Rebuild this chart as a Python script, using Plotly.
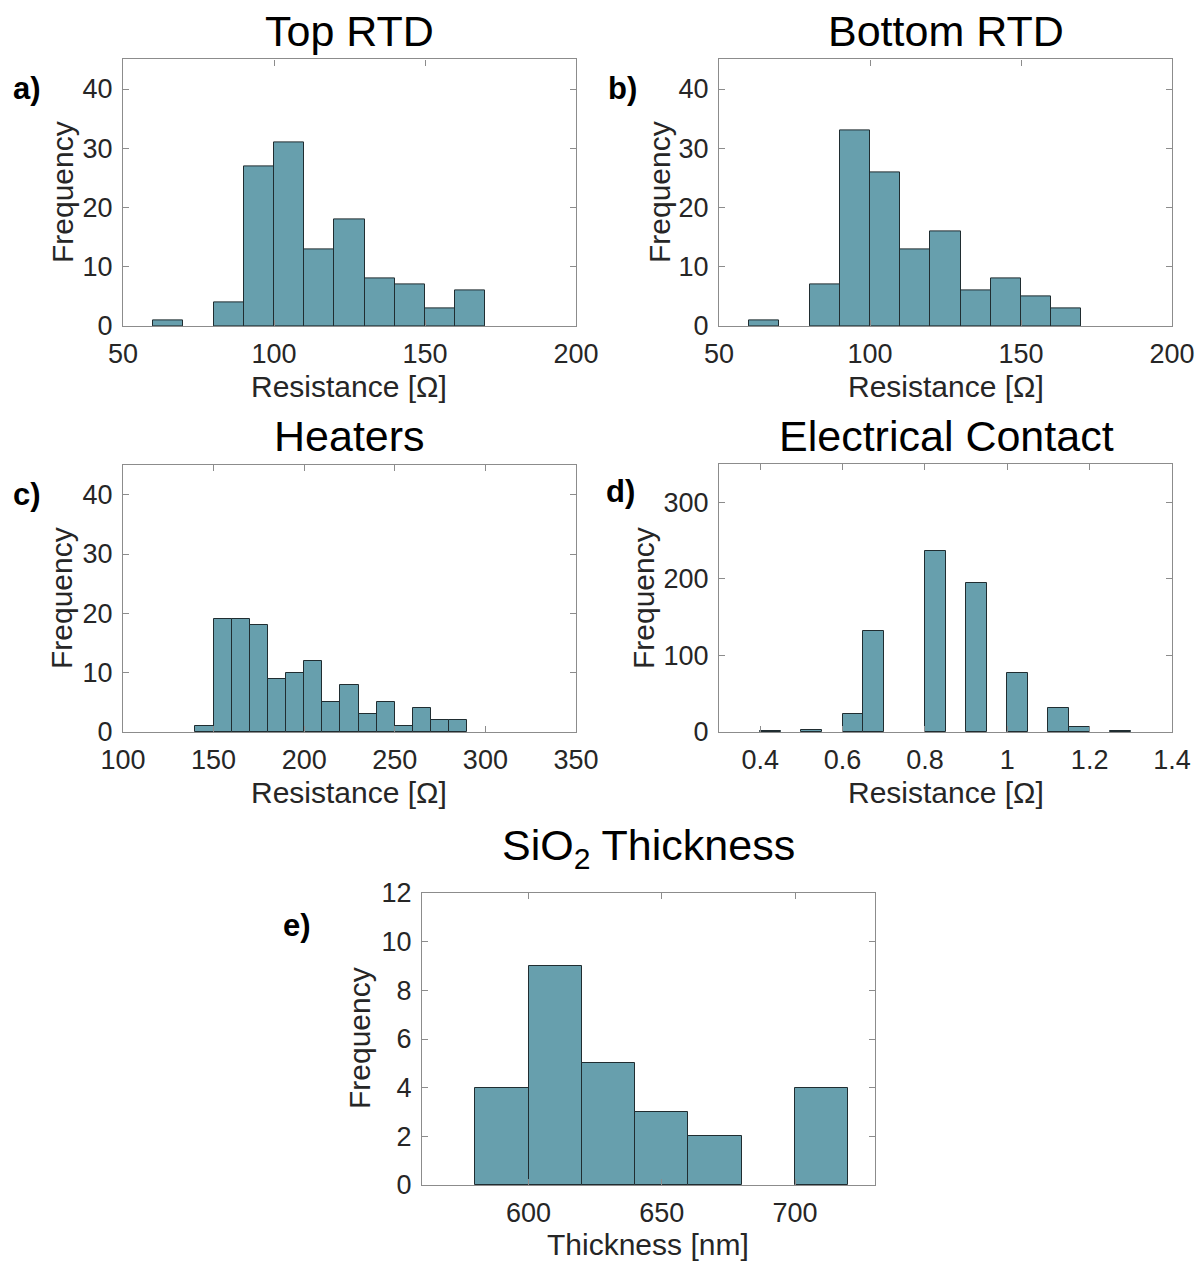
import plotly.graph_objects as go

# ---------------- data ----------------
top_rtd_bin_left = [60, 70, 80, 90, 100, 110, 120, 130, 140, 150, 160]
top_rtd_counts = [1, 0, 4, 27, 31, 13, 18, 8, 7, 3, 6]

bottom_rtd_bin_left = [60, 70, 80, 90, 100, 110, 120, 130, 140, 150, 160]
bottom_rtd_counts = [1, 0, 7, 33, 26, 13, 16, 6, 8, 5, 3]

heaters_bin_left = [140, 150, 160, 170, 180, 190, 200, 210, 220, 230, 240, 250, 260, 270, 280]
heaters_counts = [1, 19, 19, 18, 9, 10, 12, 5, 8, 3, 5, 1, 4, 2, 2]

contact_bin_left = [0.40, 0.50, 0.60, 0.65, 0.80, 0.90, 1.00, 1.10, 1.15, 1.25]
contact_counts = [1, 2, 23, 132, 237, 195, 77, 32, 6, 1]

sio2_bin_left = [580, 600, 620, 640, 660, 680, 700]
sio2_counts = [4, 9, 5, 3, 2, 0, 4]

# ---------------- style ----------------
W, H = 1197, 1263
FILL = "rgb(103,159,173)"
EDGE = "rgb(32,45,49)"
AXC = "rgb(140,140,140)"
TXT = "rgb(38,38,38)"
FONT = "Liberation Sans, Arial, Helvetica, sans-serif"


def px(x, y):
    return x / W, 1 - y / H


panels = [
    # name, bins, counts, width, xrange, xticks, yrange, yticks, box(px)
    ("a", top_rtd_bin_left, top_rtd_counts, 10, [50, 200], [50, 100, 150, 200], [0, 45], [0, 10, 20, 30, 40], (123, 576, 59.4, 326)),
    ("b", bottom_rtd_bin_left, bottom_rtd_counts, 10, [50, 200], [50, 100, 150, 200], [0, 45], [0, 10, 20, 30, 40], (719, 1172, 59.4, 326)),
    ("c", heaters_bin_left, heaters_counts, 10, [100, 350], [100, 150, 200, 250, 300, 350], [0, 45], [0, 10, 20, 30, 40], (123, 576, 465, 732)),
    ("d", contact_bin_left, contact_counts, 0.05, [0.3, 1.4], [0.4, 0.6, 0.8, 1.0, 1.2, 1.4], [0, 350], [0, 100, 200, 300], (719, 1172, 464, 732)),
    ("e", sio2_bin_left, sio2_counts, 20, [560, 730], [600, 650, 700], [0, 12], [0, 2, 4, 6, 8, 10, 12], (422, 875, 893, 1185)),
]

fig = go.Figure()
layout = dict(
    width=W, height=H,
    margin=dict(l=0, r=0, t=0, b=0),
    paper_bgcolor="white", plot_bgcolor="white",
    showlegend=False,
    font=dict(family=FONT, color=TXT),
    bargap=0,
)

for i, (name, bins, counts, bw, xr, xt, yr, yt, box) in enumerate(panels):
    sfx = "" if i == 0 else str(i + 1)
    # empty bins are not drawn (as in the original histogram)
    nz = [(b, c) for b, c in zip(bins, counts) if c > 0]
    fig.add_trace(go.Bar(
        x=[b for b, _ in nz], y=[c for _, c in nz], width=bw, offset=0,
        marker=dict(color=FILL, line=dict(color=EDGE, width=1)),
        xaxis="x" + sfx, yaxis="y" + sfx, hoverinfo="x+y",
    ))
    x0, x1, y0, y1 = box
    dx0, dy1 = px(x0, y0)
    dx1, dy0 = px(x1, y1)
    ticktext = [("%g" % v) for v in xt]
    common = dict(
        showline=True, linecolor=AXC, linewidth=1.3, mirror="allticks",
        ticks="inside", ticklen=6, tickcolor=AXC, tickwidth=1.3,
        showgrid=False, zeroline=False,
        tickfont=dict(size=27, color=TXT, family=FONT),
        automargin=False,
    )
    layout["xaxis" + sfx] = dict(
        domain=[dx0, dx1], range=xr, tickvals=xt, ticktext=ticktext,
        anchor="y" + sfx, ticklabelstandoff=3, **common)
    layout["yaxis" + sfx] = dict(
        domain=[dy0, dy1], range=yr, tickvals=yt,
        anchor="x" + sfx, ticklabelstandoff=4, **common)

annotations = []


def ann(text, x, y, size, bold=False, angle=0):
    ax, ay = px(x, y)
    annotations.append(dict(
        text=("<b>%s</b>" % text) if bold else text,
        x=ax, y=ay, xref="paper", yref="paper",
        xanchor="center", yanchor="middle", showarrow=False,
        textangle=angle,
        font=dict(size=size, color="black" if bold or size > 35 else TXT, family=FONT),
    ))


# subplot titles
ann("Top RTD", 349, 31, 43)
ann("Bottom RTD", 946, 31, 43)
ann("Heaters", 349, 436, 43)
ann("Electrical Contact", 946, 436, 43)
ann("SiO<sub>2</sub> Thickness", 648, 848, 43)

# axis titles
ann("Resistance [Ω]", 349, 386, 30)
ann("Resistance [Ω]", 946, 386, 30)
ann("Resistance [Ω]", 349, 792, 30)
ann("Resistance [Ω]", 946, 792, 30)
ann("Thickness [nm]", 648, 1244, 30)
ann("Frequency", 62, 192, 30, angle=-90)
ann("Frequency", 659, 192, 30, angle=-90)
ann("Frequency", 62, 598, 30, angle=-90)
ann("Frequency", 644, 598, 30, angle=-90)
ann("Frequency", 359, 1038, 30, angle=-90)

# panel labels
ann("a)", 27, 89, 31, bold=True)
ann("b)", 622, 89, 31, bold=True)
ann("c)", 27, 494, 31, bold=True)
ann("d)", 620, 492, 31, bold=True)
ann("e)", 297, 925, 31, bold=True)

layout["annotations"] = annotations
fig.update_layout(**layout)
fig.write_html("out.html", config={"displayModeBar": False},
               post_script="document.body.style.margin='0px';")
